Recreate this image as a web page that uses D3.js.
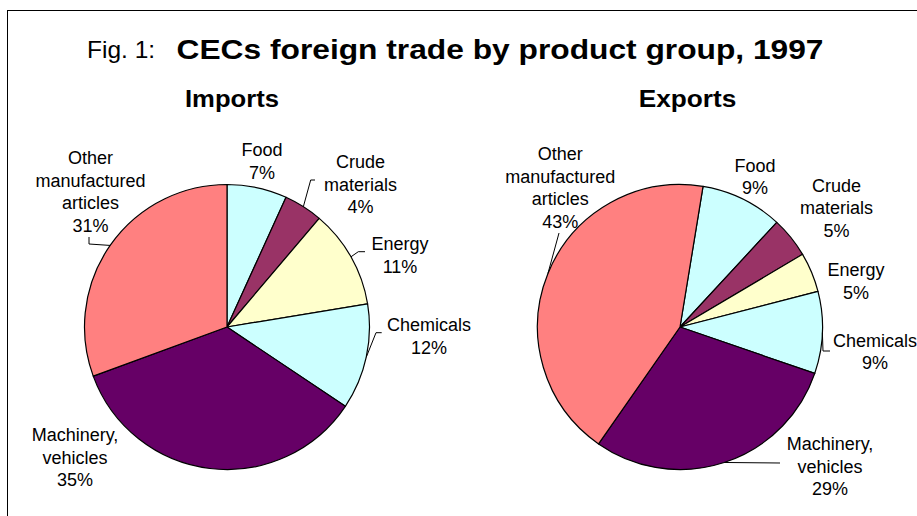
<!DOCTYPE html>
<html>
<head>
<meta charset="utf-8">
<script src="https://cdn.jsdelivr.net/npm/d3@7"></script>
<style>
    html, body { margin: 0; padding: 0; background: #fff; }
    svg { display: block; font-family: "Liberation Sans", Arial, sans-serif; }
</style>
</head>
<body>
<svg id="chart" width="917" height="516"></svg>
<script>
//data (shares in %)
const categories = ["Food", "Crude materials", "Energy", "Chemicals", "Machinery, vehicles", "Other manufactured articles"];
const labelLines = [["Food"], ["Crude", "materials"], ["Energy"], ["Chemicals"], ["Machinery,", "vehicles"], ["Other", "manufactured", "articles"]];
const importShares = [6.8, 4.4, 11.2, 12.0, 35.0, 30.6];
const exportShares = [9.3, 4.6, 4.5, 9.3, 29.4, 42.9];
const sliceColors = ["#ccffff", "#993366", "#ffffcc", "#ccffff", "#660066", "#ff8080"];

//layout: pie centres, label offsets (dx, first baseline dy), leader lines
const pieR = 142.5;
const importsLayout = {
    title: "Imports", cx: 227, cy: 327, startDeg: 0, titleX: 232, titleW: 94,
    labels: [[35, -171], [133.5, -159], [173, -77], [202, 4], [-152, 114], [-136.5, -163]],
    leaders: {1: [[83.7, -147], [88, -147]], 2: [[131.3, -75.3], [138, -75.3]],
              3: [[149, 5.7], [154.7, 5.7]], 5: [[-138, -83], [-138, -90]]}
};
const exportsLayout = {
    title: "Exports", cx: 680, cy: 327, startDeg: 9.3, titleX: 687.5, titleW: 97.6,
    labels: [[75, -155.3], [156.5, -135.3], [176, -51], [195, 19.7], [150, 123], [-119.7, -167]],
    leaders: {3: [[143, 24], [150, 24]], 4: [[100, 136]], 5: [[-121, -94]]}
};

const svg = d3.select("#chart");

//frame
svg.append("rect")
    .attr("x", 7.5).attr("y", 10.5)
    .attr("width", 1000).attr("height", 1000)
    .attr("fill", "none").attr("stroke", "#000").attr("stroke-width", 1);

//main title
svg.append("text")
    .attr("x", 87).attr("y", 57.7)
    .style("font-size", "24.5px")
    .text("Fig. 1:");
svg.append("text")
    .attr("x", 176.5).attr("y", 59)
    .style("font-size", "28px").style("font-weight", "bold")
    .attr("textLength", 647).attr("lengthAdjust", "spacingAndGlyphs")
    .text("CECs foreign trade by product group, 1997");

const color = d3.scaleOrdinal().domain(categories).range(sliceColors);
const arc = d3.arc().innerRadius(0).outerRadius(pieR);
const rad = deg => deg * Math.PI / 180;

function drawPie(shares, lay) {
    const pie = d3.pie()
        .sort(null)
        .value(d => d.value)
        .startAngle(rad(lay.startDeg))
        .endAngle(rad(lay.startDeg) + 2 * Math.PI);
    const total = d3.sum(shares);
    const arcs = pie(categories.map((c, i) => ({key: c, value: shares[i], i: i})));

    svg.append("text")
        .attr("x", lay.titleX).attr("y", 107)
        .attr("text-anchor", "middle")
        .style("font-size", "23px").style("font-weight", "bold")
        .attr("textLength", lay.titleW).attr("lengthAdjust", "spacingAndGlyphs")
        .text(lay.title);

    const g = svg.append("g").attr("transform", `translate(${lay.cx},${lay.cy})`);

    g.selectAll("path.slice")
      .data(arcs).enter()
      .append("path")
        .classed("slice", true)
        .attr("d", arc)
        .attr("fill", d => color(d.data.key))
        .attr("stroke", "#000")
        .attr("stroke-width", 1.2)
        .attr("stroke-linejoin", "round");

    //leader lines start on the rim at the middle of the slice
    arcs.forEach(d => {
        const pts = lay.leaders[d.data.i];
        if (!pts) return;
        const mid = (d.startAngle + d.endAngle) / 2;
        const start = [pieR * Math.sin(mid), -pieR * Math.cos(mid)];
        g.append("path")
            .attr("d", d3.line()([start].concat(pts)))
            .attr("fill", "none")
            .attr("stroke", "#000")
            .attr("stroke-width", 1);
    });

    const labels = g.selectAll("text.lbl")
      .data(arcs).enter()
      .append("text")
        .classed("lbl", true)
        .attr("text-anchor", "middle")
        .style("font-size", "18px")
        .attr("fill", "#000");
    labels.each(function(d) {
        const [dx, dy] = lay.labels[d.data.i];
        const lines = labelLines[d.data.i].concat([Math.round(d.data.value / total * 100) + "%"]);
        d3.select(this).selectAll("tspan")
          .data(lines).enter()
          .append("tspan")
            .attr("x", dx)
            .attr("y", (t, k) => dy + k * 22.5)
            .text(t => t);
    });
}

drawPie(importShares, importsLayout);
drawPie(exportShares, exportsLayout);
</script>
</body>
</html>
